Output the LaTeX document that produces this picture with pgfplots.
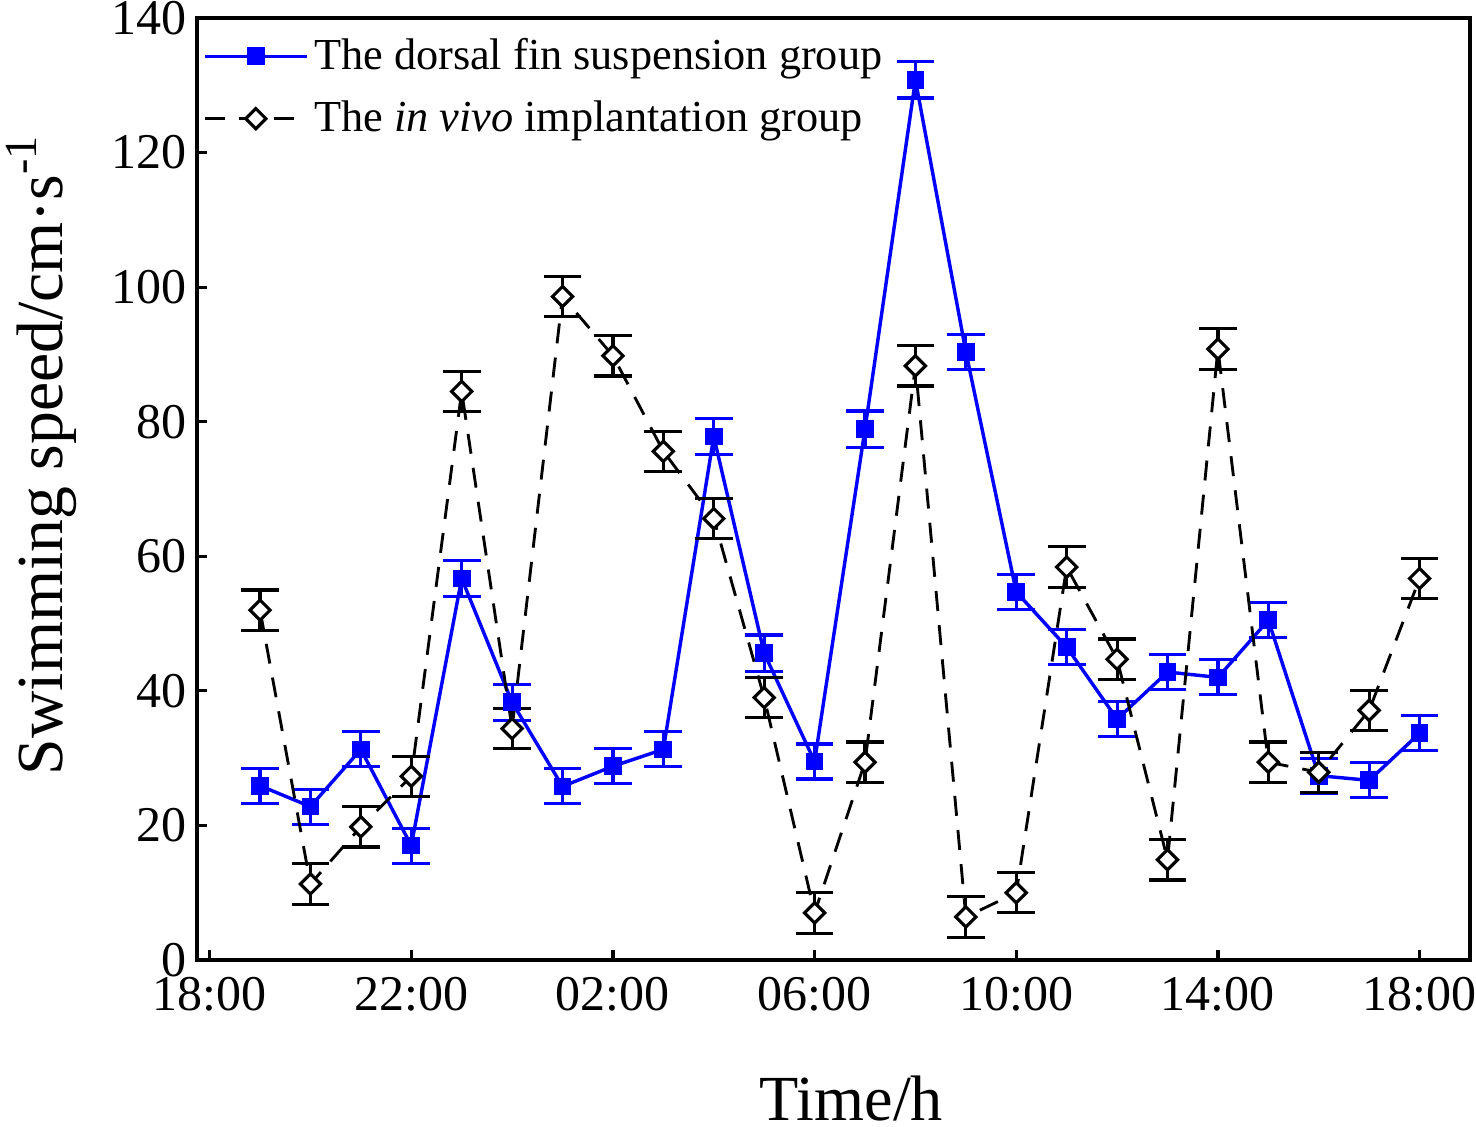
\documentclass[border=0pt]{standalone}
\usepackage{pgfplots}
\pgfplotsset{compat=1.18}
\usepackage{fontspec}
\setmainfont{Liberation Serif}
\definecolor{myblue}{RGB}{0,0,255}
\pgfplotstableread{
x y e
1 25.9 2.6
2 22.8 2.6
3 31.3 2.6
4 17.0 2.6
5 56.7 2.7
6 38.3 2.7
7 25.8 2.6
8 28.8 2.6
9 31.3 2.6
10 77.8 2.7
11 45.6 2.7
12 29.5 2.6
13 78.9 2.7
14 130.8 2.7
15 90.4 2.6
16 54.7 2.6
17 46.5 2.6
18 35.8 2.6
19 42.8 2.6
20 42.0 2.6
21 50.5 2.6
22 27.4 2.6
23 26.7 2.6
24 33.7 2.6
}\dorsal
\pgfplotstableread{
x y e
1 52.0 3.0
2 11.3 3.0
3 19.8 3.0
4 27.3 3.0
5 84.5 3.0
6 34.4 3.0
7 98.6 3.0
8 89.8 3.0
9 75.6 3.0
10 65.6 3.0
11 39.0 3.0
12 7.0 3.0
13 29.4 3.0
14 88.3 3.0
15 6.4 3.0
16 10.0 3.0
17 58.4 3.0
18 44.7 3.0
19 14.9 3.0
20 90.8 3.0
21 29.4 3.0
22 27.9 3.0
23 37.1 3.0
24 56.7 3.0
}\vivo
\begin{document}
\begin{tikzpicture}
\begin{axis}[name=ax, at={(0,0)}, anchor=south west,
  scale only axis, width=445.55pt, height=329.7pt,
  xmin=-0.25, xmax=25, ymin=0, ymax=140,
  xtick={0,4,...,24},
  xticklabels={18:00,22:00,02:00,06:00,10:00,14:00,18:00},
  ytick={0,20,...,140},
  xtick pos=bottom, ytick pos=left,
  tick align=inside, major tick length=3.5pt,
  axis line style={line width=1.1pt},
  every tick/.style={line width=1.1pt, black},
  ticklabel style={font=\fontsize{17.5}{20}\selectfont},
  xticklabel style={yshift=-2.5pt},
  /pgf/number format/assume math mode=true,
  xlabel={Time/h},
  ylabel={Swimming speed/cm·s\textsuperscript{-1}},
  xlabel style={font=\fontsize{22.5}{26}\selectfont, at={(axis description cs:0.514,0)}, anchor=north, yshift=-40.3pt, inner sep=0pt},
  ylabel style={font=\fontsize{23}{27}\selectfont, at={(axis description cs:-0.094,0.536)}, anchor=south, inner sep=0pt},
  legend style={at={(axis description cs:0,1)}, anchor=north west, draw=none, fill=none,
    font=\fontsize{15.5}{18}\selectfont, row sep=5.5pt, inner xsep=2pt, inner ysep=5pt},
  legend cell align=left,
  legend image code/.code={\draw[mark repeat=2,mark phase=2,#1] plot coordinates {(0pt,0pt) (17.8pt,0pt) (35.6pt,0pt)};},
]
\addplot[myblue, line width=1.2pt, mark=square*, mark size=2.5pt, mark options={solid},
  error bars/.cd, y dir=both, y explicit,
  error bar style={line width=1.1pt, myblue},
  error mark options={rotate=90, line width=1.1pt, mark size=6.6pt, myblue}]
  table[x=x, y=y, y error=e] {\dorsal};
\addlegendentry{The dorsal fin suspension group}
\addplot[black, line width=1pt, dash pattern=on 7pt off 5pt, mark=square*, mark size=2.5pt,
  mark options={solid, fill=white, line width=1.1pt, rotate=45},
  error bars/.cd, y dir=both, y explicit,
  error bar style={line width=1.1pt, black, solid},
  error mark options={rotate=90, line width=1.1pt, mark size=6.6pt, black, solid}]
  table[x=x, y=y, y error=e] {\vivo};
\addlegendentry{The \textit{in vivo} implantation group}
\end{axis}
\pgfresetboundingbox
\path[use as bounding box] ([shift={(-68.95pt,-58.1pt)}]ax.south west) rectangle ([shift={(447.65pt,336pt)}]ax.south west);
\end{tikzpicture}
\end{document}
